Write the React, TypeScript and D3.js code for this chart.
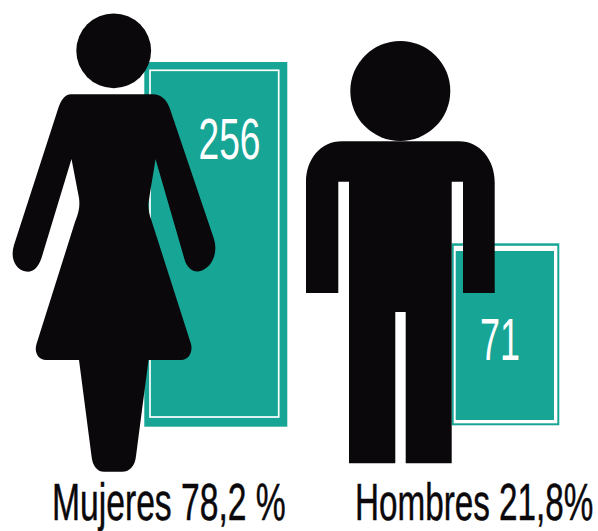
import React from "react";
import * as d3 from "d3";

const W = 598, H = 531;
const categories = ["Mujeres", "Hombres"];
const counts = [256, 71];
const percentLabels = ["Mujeres 78,2 %", "Hombres 21,8%"];

const TEAL = "#17a595";
const INK = "#0a080b";

// The source's bars are pictorial, not proportional; these scales reproduce its mapping.
const topY = d3.scaleLinear().domain([71, 256]).range([243.3, 62]);
const widthScale = d3.scaleLinear().domain([71, 256]).range([107.6, 143]);
const leftX = d3.scaleOrdinal<string, number>().domain(categories).range([144.3, 451.7]);
const bottomY = d3.scaleOrdinal<string, number>().domain(categories).range([426.7, 425.3]);

const WOMAN =
  "M71 94.3 L153 94.3 C161 94.3 167 100 170 109 L214 239 C218 252 213 266 202 270.5 C194 273.5 188 269 185 261 L155.5 159 " +
  "C154 170 151 186 148.5 203 C148 209 149.5 215 151 219 L191 344 C193 352 189 360 181 360 L148.5 360 " +
  "L136 456 C135 466 130 471.7 122 471.7 L104 471.7 C97 471.7 92.5 466 91.5 456 L79 360 L46 360 " +
  "C38 360 34 352 36.5 344 L75 222 C79 212 80 206 79 198 L71.5 159 L41.5 258 C38 268 33 272.5 26 271.5 " +
  "C15 269.5 10 258 14 245 L58 109 C61 100 65 94.3 71 94.3 Z";

const MAN =
  "M342 141.3 L459 141.3 C480 141.3 494.7 160 494.7 182 L494.7 293 L463 293 L463 181.7 L451.7 181.7 L451.7 463.3 " +
  "L405.7 463.3 L405.7 312 L395.3 312 L395.3 463.3 L349 463.3 L349 181.7 L338.3 181.7 L338.3 293 L306 293 L306 182 " +
  "C306 160 320 141.3 342 141.3 Z";

export default function App() {
  const bar = (i: number) => {
    const name = categories[i];
    const x = leftX(name), y = topY(counts[i]);
    return { x, y, w: widthScale(counts[i]), h: bottomY(name) - y };
  };
  const b0 = bar(0), b1 = bar(1);
  return (
    <svg width={W} height={H} viewBox={`0 0 ${W} ${H}`}
      style={{ position: "fixed", left: 0, top: 0, background: "#fff" }}
      fontFamily="'Liberation Sans', Arial, sans-serif">
      {/* Mujeres bar: thick teal, thin white inset line */}
      <rect x={b0.x} y={b0.y} width={b0.w} height={b0.h} fill={TEAL} />
      <rect x={b0.x + 5.7} y={b0.y + 8.3} width={b0.w - 14.3} height={b0.h - 18} fill="none" stroke="#fff" strokeWidth={1.7} />
      {/* Hombres bar: teal edge, white band, teal core */}
      <rect x={b1.x} y={b1.y} width={b1.w} height={b1.h} fill={TEAL} />
      <rect x={b1.x + 2} y={b1.y + 2.5} width={b1.w - 4} height={b1.h - 4.5} fill="#fff" />
      <rect x={b1.x + 4} y={b1.y + 7.7} width={b1.w - 9.3} height={b1.h - 13} fill={TEAL} />

      <text transform="translate(198.5,159) scale(0.64,1)" fontSize={58} fill="#fff">{counts[0]}</text>
      <text transform="translate(480,360.3) scale(0.6,1)" fontSize={60} fill="#fff">{counts[1]}</text>

      <circle cx={113.7} cy={50.8} r={37.4} fill={INK} />
      <path d={WOMAN} fill={INK} />
      <circle cx={400.3} cy={91} r={50} fill={INK} />
      <path d={MAN} fill={INK} />

      <text transform="translate(52,520) scale(0.66,1)" fontSize={51} fill={INK} stroke={INK} strokeWidth={0.5}>{percentLabels[0]}</text>
      <text transform="translate(355,520) scale(0.652,1)" fontSize={51} fill={INK} stroke={INK} strokeWidth={0.5}>{percentLabels[1]}</text>
    </svg>
  );
}
